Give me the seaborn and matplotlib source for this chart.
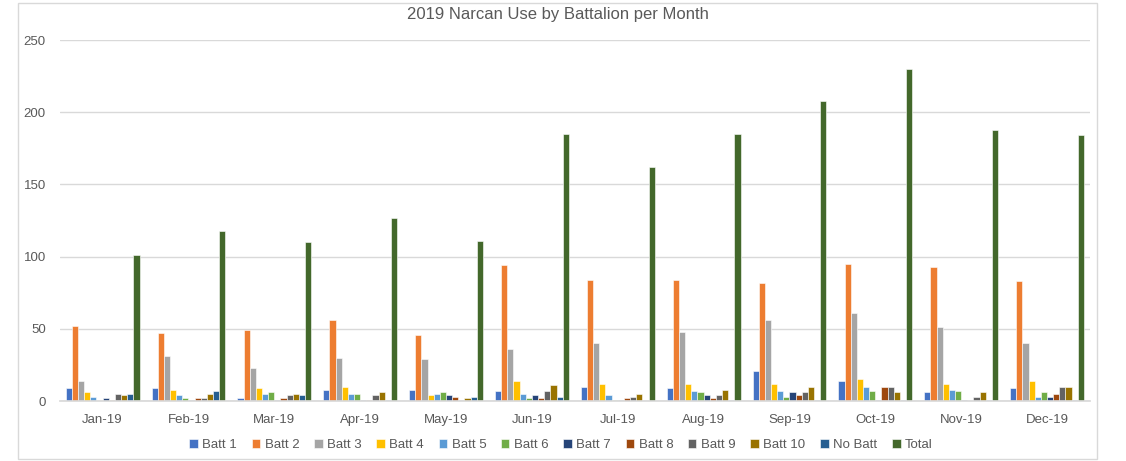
import pandas as pd
import matplotlib.pyplot as plt
import seaborn as sns
from matplotlib.patches import Rectangle

months = ['Jan-19', 'Feb-19', 'Mar-19', 'Apr-19', 'May-19', 'Jun-19',
          'Jul-19', 'Aug-19', 'Sep-19', 'Oct-19', 'Nov-19', 'Dec-19']
series = ['Batt 1', 'Batt 2', 'Batt 3', 'Batt 4', 'Batt 5', 'Batt 6',
          'Batt 7', 'Batt 8', 'Batt 9', 'Batt 10', 'No Batt', 'Total']

batt1 = [9, 9, 2, 8, 8, 7, 10, 9, 21, 14, 6, 9]
batt2 = [52, 47, 49, 56, 46, 94, 84, 84, 82, 95, 93, 83]
batt3 = [14, 31, 23, 30, 29, 36, 40, 48, 56, 61, 51, 40]
batt4 = [6, 8, 9, 10, 4, 14, 12, 12, 12, 15, 12, 14]
batt5 = [3, 4, 5, 5, 5, 5, 4, 7, 7, 10, 8, 3]
batt6 = [0, 2, 6, 5, 6, 2, 1, 6, 3, 7, 7, 6]
batt7 = [2, 1, 1, 1, 4, 4, 1, 4, 6, 1, 1, 3]
batt8 = [1, 2, 2, 1, 3, 2, 2, 2, 4, 10, 0, 5]
batt9 = [5, 2, 4, 4, 1, 7, 3, 4, 6, 10, 3, 10]
batt10 = [4, 5, 5, 6, 2, 11, 5, 8, 10, 6, 6, 10]
no_batt = [5, 7, 4, 1, 3, 3, 0, 1, 1, 1, 1, 1]
total = [101, 118, 110, 127, 111, 185, 162, 185, 208, 230, 188, 184]

colors = ['#4472C4', '#ED7D31', '#A5A5A5', '#FFC000', '#5B9BD5', '#70AD47',
          '#264478', '#9E480E', '#636363', '#997300', '#255E91', '#43682B']

values = [batt1, batt2, batt3, batt4, batt5, batt6, batt7, batt8, batt9,
          batt10, no_batt, total]
rows = []
for name, vals in zip(series, values):
    for m, v in zip(months, vals):
        rows.append({'Month': m, 'Series': name, 'Count': v})
df = pd.DataFrame(rows)

sns.set_theme(style='white')
plt.rcParams['font.family'] = ['Liberation Sans', 'DejaVu Sans']

fig = plt.figure(figsize=(11.26, 4.61), dpi=100)
ax = fig.add_axes([0.053, 0.130, 0.915, 0.783])

sns.barplot(data=df, x='Month', y='Count', hue='Series', order=months,
            hue_order=series, palette=colors, width=0.86, ax=ax,
            saturation=1, edgecolor='white', linewidth=0.4, legend=True)

ax.set_ylim(0, 250)
ax.set_xlim(-0.5, 11.5)
ax.set_yticks(range(0, 251, 50))
ax.yaxis.grid(True, color='#D9D9D9', linewidth=1)
ax.set_axisbelow(True)
ax.set_xlabel('')
ax.set_ylabel('')
for s in ['top', 'right', 'left']:
    ax.spines[s].set_visible(False)
ax.spines['bottom'].set_color('#D9D9D9')
ax.tick_params(axis='both', colors='#595959', labelsize=9.5, length=0)
ax.tick_params(axis='x', pad=9)
ax.tick_params(axis='y', pad=10)
ax.set_xticks([i - 0.5 for i in range(13)], minor=True)
ax.tick_params(axis='x', which='minor', length=5, color='#D9D9D9', width=1)

fig.text(558 / 1126, 1 - 15 / 461, '2019 Narcan Use by Battalion per Month',
         fontsize=12, color='#595959', ha='center', va='center')

handles, labels = ax.get_legend_handles_labels()
ax.get_legend().remove()
fig.legend(handles, labels, loc='center', bbox_to_anchor=(561 / 1126, 1 - 445 / 461),
           ncol=12, frameon=False, fontsize=9.5, handlelength=0.65,
           handleheight=0.65, handletextpad=0.35, columnspacing=1.1,
           labelcolor='#595959')

fig.patches.append(Rectangle((18 / 1126, 2 / 461), 1079 / 1126, 456 / 461,
                             transform=fig.transFigure, fill=False,
                             edgecolor='#D9D9D9', linewidth=1))

fig.savefig('out.png', dpi=100)
